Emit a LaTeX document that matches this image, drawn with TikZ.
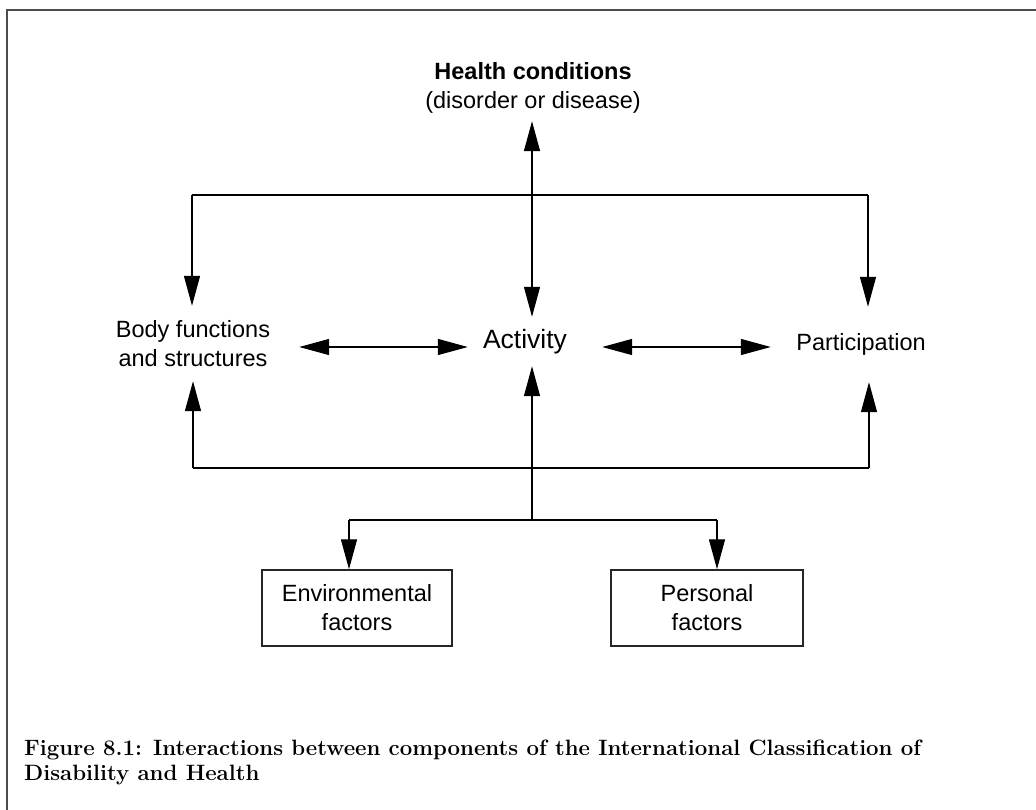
\documentclass[tikz,border=0pt]{standalone}
\usepackage{fontspec}
\usepackage{tikz}
\usetikzlibrary{arrows.meta,positioning}
\newfontfamily\diagfont{Liberation Sans}
\newcommand\captionfont{\fontsize{22.2}{24.5}\selectfont\bfseries}

\tikzset{
  lbl/.style={font=\diagfont\fontsize{23.5}{29}\selectfont, align=center, inner sep=0pt},
  factorbox/.style={lbl, draw=black!85, line width=1.4pt, minimum width=190pt, minimum height=76pt},
  link/.style={line width=1.3pt},
  arr/.style={link, -{Triangle[length=30pt,width=16pt]}},
  dblarr/.style={link, {Triangle[length=30pt,width=16pt]}-{Triangle[length=30pt,width=16pt]}},
}

\begin{document}
\begin{tikzpicture}[x=1pt, y=-1pt]
  \useasboundingbox (0,0) rectangle (1036,809);
  \draw[black!70, line width=2pt] (1037,10) -- (7,10) -- (7,810);

  % ---- Top: health condition ----
  \node[lbl, minimum height=66pt] (health) at (533,88)
    {{\bfseries Health conditions}\\(disorder or disease)};

  % ---- Middle row: the three components ----
  \node[lbl, minimum width=212pt, minimum height=75pt] (body) at (193,343.5)
    {Body functions\\and structures};
  \node[lbl, font=\diagfont\fontsize{26.5}{30}\selectfont,
        minimum width=114pt, minimum height=49pt] (activity) at (525,341.5) {Activity};
  \node[lbl, minimum width=180pt, minimum height=75pt] (particip) at (861,344.5) {Participation};

  % ---- Bottom: contextual factors ----
  \node[factorbox] (env) at (357,608) {Environmental\\factors};
  \node[factorbox, minimum width=192pt] (pers) at (707,608) {Personal\\factors};

  % junction points of the connectors
  \coordinate (axis) at (532,0);
  \coordinate (midrow) at (0,347);
  \coordinate (topL) at (192,195);
  \coordinate (topR) at (868,195);
  \coordinate (botL) at (193,468);
  \coordinate (botR) at (869,468);
  \coordinate (fork) at (532,520);
  \coordinate (envdrop) at (349,520);
  \coordinate (persdrop) at (717,520);

  % upper loop from the health condition
  \draw[dblarr] (health.south -| axis) -- (activity.north -| axis);
  \draw[link] (topL) -- (topR);
  \draw[arr] (topL) -- (topL |- body.north);
  \draw[arr] (topR) -- (topR |- particip.north);

  % links in the middle row
  \draw[dblarr] (body.east |- midrow) -- (activity.west |- midrow);
  \draw[dblarr] ([xshift=20pt]activity.east |- midrow) -- (particip.west |- midrow);

  % lower loop from the contextual factors
  \draw[link] (botL) -- (botR);
  \draw[arr] (botL) -- (botL |- body.south);
  \draw[arr] (botR) -- (botR |- particip.south);
  \draw[arr] (fork) -- (activity.south -| fork);
  \draw[link] (envdrop) -- (persdrop);
  \draw[arr] (envdrop) -- (envdrop |- env.north);
  \draw[arr] (persdrop) -- (persdrop |- pers.north);

  % ---- Caption ----
  \node[anchor=north west, inner sep=0pt, align=left, font=\captionfont] (caption) at (24,740)
    {Figure 8.1: Interactions between components of the International Classification of\\
     Disability and Health};
\end{tikzpicture}
\end{document}
